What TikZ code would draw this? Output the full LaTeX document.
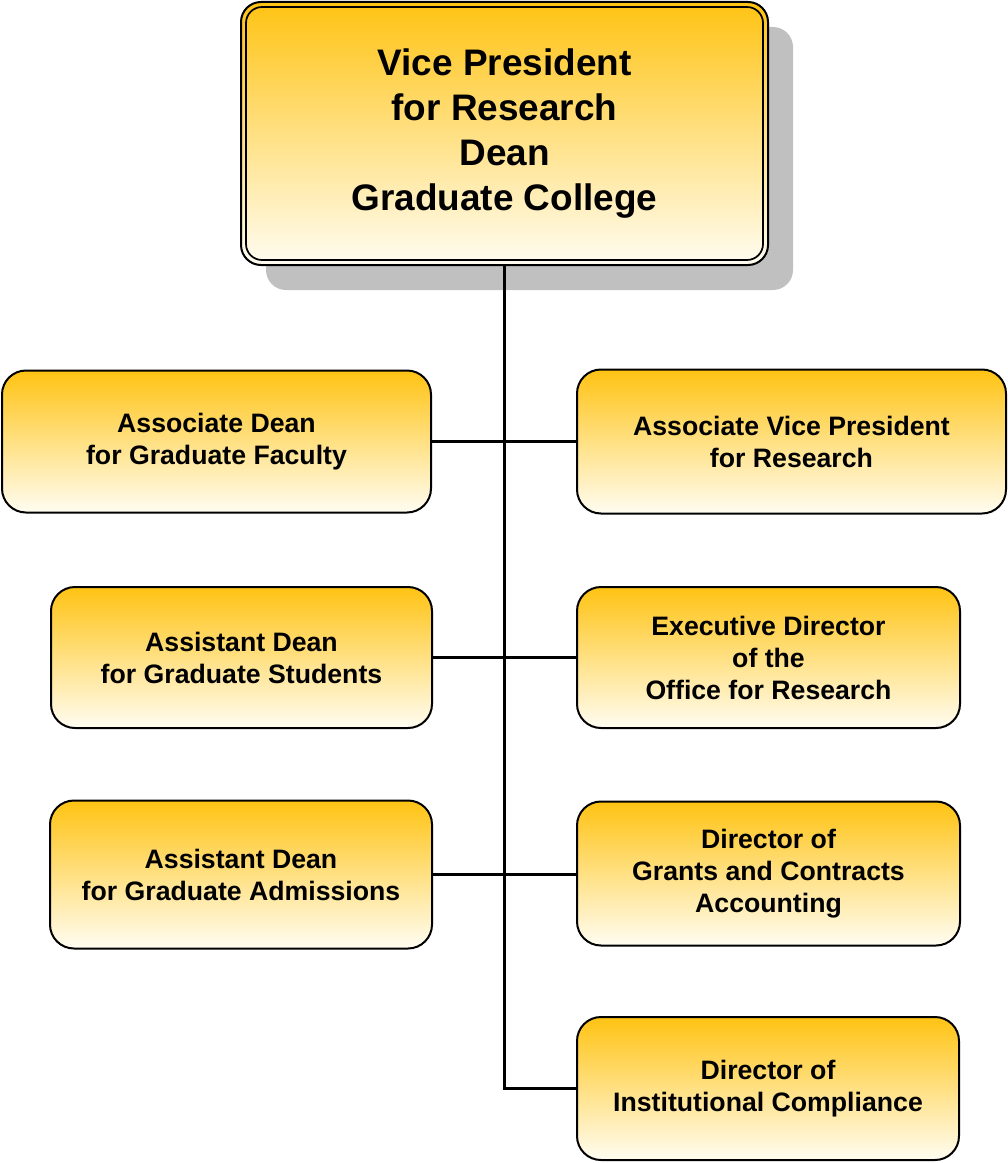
\documentclass[tikz,border=0pt]{standalone}
\usepackage{fontspec}
\setmainfont{Liberation Sans}
\definecolor{boxtop}{HTML}{FFC313}
\definecolor{boxbot}{HTML}{FFFDF2}
\definecolor{shadowgray}{HTML}{C0C0C0}
\tikzset{
  box/.style={draw=black, line width=1.5pt, rounded corners=18pt, top color=boxtop, bottom color=boxbot,
    align=center, font=\bfseries\fontsize{20}{24}\selectfont, inner sep=0pt},
  link/.style={draw=black, line width=1.9pt},
}
\begin{document}
\begin{tikzpicture}[x=0.75pt,y=-0.75pt]
\useasboundingbox (0,0) rectangle (1007,1163);
% shadow of top box
\fill[shadowgray, rounded corners=15pt] (266,27) rectangle (793,290);
% top box
\node[box, rounded corners=15pt, minimum width=395.25pt, minimum height=197.25pt,
  font=\bfseries\fontsize{27.7}{33.75}\selectfont] (top) at (504.5,133.5)
  {Vice President\\for Research\\Dean\\Graduate College};
\draw[line width=1.3pt, rounded corners=12pt] ([shift={(4.5pt,-4.5pt)}]top.north west) rectangle ([shift={(-4.5pt,4.5pt)}]top.south east);
% side boxes
\node[box, minimum width=321.75pt, minimum height=106.5pt] (l1) at (216.5,441.5) {Associate Dean\\for Graduate Faculty};
\node[box, minimum width=321.75pt, minimum height=108pt] (r1) at (791.5,441.5) {Associate Vice President\\for Research};
\node[box, minimum width=285.75pt, minimum height=105.75pt] (l2) at (241.5,657.5) {Assistant Dean\\for Graduate Students};
\node[box, minimum width=287.25pt, minimum height=105.75pt] (r2) at (768.5,657.5) {Executive Director\\of the\\Office for Research};
\node[box, minimum width=286.5pt, minimum height=111pt] (l3) at (241,874.5) {Assistant Dean\\for Graduate Admissions};
\node[box, minimum width=287.25pt, minimum height=108pt] (r3) at (768.5,873.5) {Director of\\Grants and Contracts\\Accounting};
\node[box, minimum width=286.5pt, minimum height=107.25pt] (r4) at (768,1088.5) {Director of\\Institutional Compliance};
% connectors
\coordinate (bend) at (top.south |- r4.west);
\draw[link] (top.south) -- (bend) -- (r4.west);
\draw[link] (l1.east) -- (l1.east -| r1.west);
\draw[link] (l2.east) -- (l2.east -| r2.west);
\draw[link] (l3.east) -- (l3.east -| r3.west);
\end{tikzpicture}
\end{document}
